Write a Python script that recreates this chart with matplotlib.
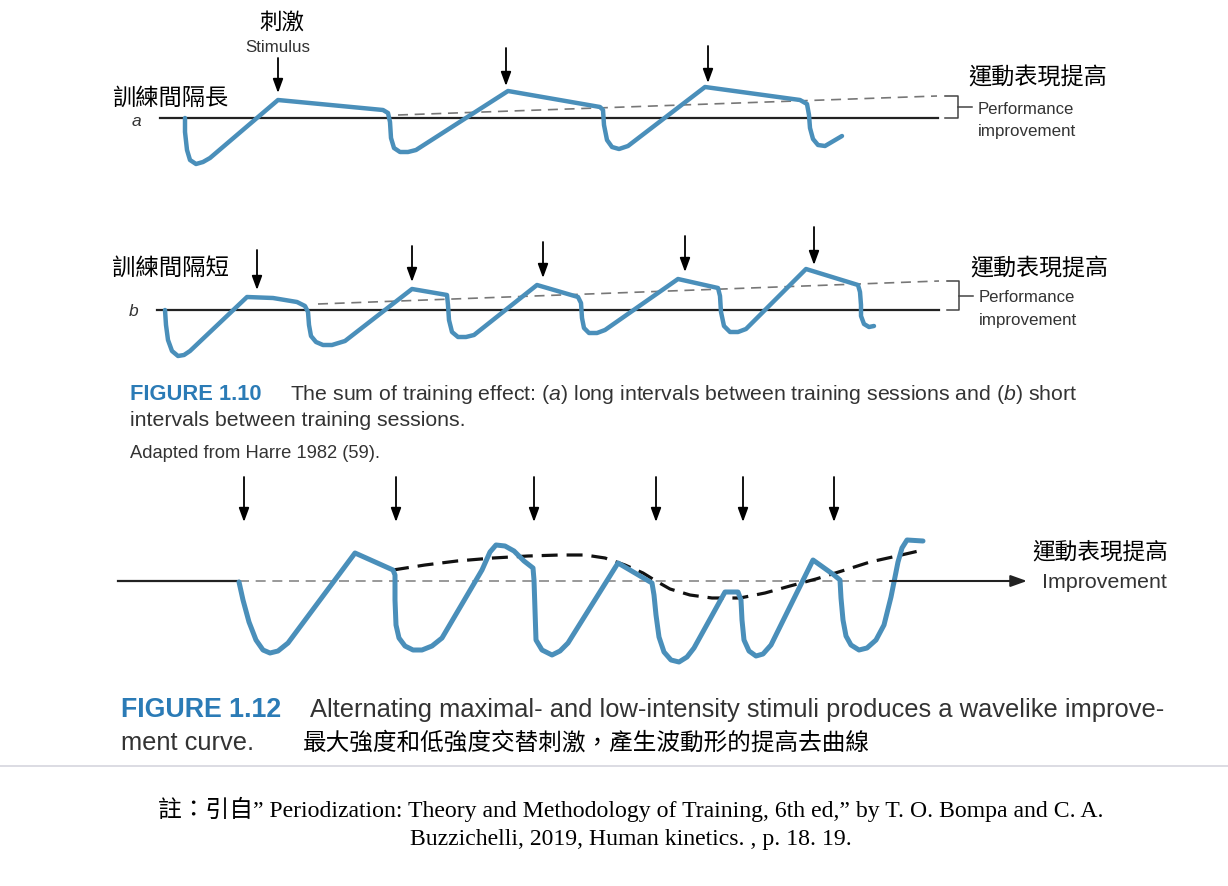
import matplotlib.pyplot as plt

W, H = 1228, 886

# hand-drawn curves in pixel units (y grows downward)
# panel a: long intervals between sessions
a_curve_x = [185, 185, 187, 190, 196, 203, 210, 278, 383, 388, 390, 391, 394, 400, 408, 416, 508,
             600, 603, 604, 607, 612, 619, 628, 705, 800, 807, 809, 810, 813, 818, 825, 842]
a_curve_y = [118, 132, 150, 160, 164, 162, 158, 100, 110, 113, 122, 138, 148, 152, 152, 150, 91,
             107, 110, 125, 140, 147, 149, 146, 87, 100, 104, 115, 128, 139, 145, 146, 136]
a_trend_x = [398, 937]
a_trend_y = [115, 96]
a_stim_x = [278, 506, 708]
a_stim_top = [58, 48, 46]
a_stim_tip = [93, 86, 83]

# panel b: short intervals between sessions
b_curve_x = [165, 166, 168, 172, 178, 184, 190, 247, 273, 297, 305, 308, 309, 311, 316, 323, 332, 345, 412,
             447, 448, 449, 452, 458, 466, 474, 537, 578, 581, 582, 584, 589, 597, 605, 678,
             718, 720, 721, 724, 730, 738, 746, 806, 858, 860, 861, 861, 864, 869, 874]
b_curve_y = [310, 325, 340, 351, 356, 355, 351, 297, 298, 302, 306, 312, 325, 336, 342, 345, 345, 341, 289,
             295, 305, 320, 332, 337, 337, 335, 285, 297, 303, 318, 328, 333, 333, 330, 279,
             288, 296, 312, 326, 332, 332, 329, 269, 285, 292, 305, 316, 324, 327, 326]
b_trend_x = [318, 939]
b_trend_y = [304, 281]
b_stim_x = [257, 412, 543, 685, 814]
b_stim_top = [250, 246, 242, 236, 227]
b_stim_tip = [290, 282, 278, 272, 265]

# figure 1.12: alternating maximal and low intensity stimuli
c_curve_x = [239, 243, 249, 256, 263, 270, 278, 288, 355, 393, 395, 395, 396, 399, 405, 413, 422, 432, 442,
             482, 490, 496, 505, 514, 524, 533, 534, 535, 536, 542, 552, 560, 568, 618,
             652, 654, 656, 659, 664, 671, 679, 687, 694, 725, 738, 741, 742, 744, 749, 756, 763, 771,
             813, 834, 840, 841, 843, 846, 851, 859, 867, 876, 884, 891, 898, 902, 907, 923]
c_curve_y = [582, 600, 622, 640, 650, 653, 651, 643, 553, 570, 575, 600, 625, 638, 646, 650, 650, 646, 638,
             570, 552, 545, 546, 551, 561, 568, 580, 610, 640, 650, 655, 651, 643, 563,
             583, 595, 615, 637, 652, 660, 662, 657, 648, 592, 592, 600, 620, 640, 651, 656, 654, 645,
             560, 575, 580, 598, 620, 636, 645, 650, 648, 640, 625, 597, 562, 548, 540, 541]
c_wave_x = [393, 425, 457, 493, 528, 560, 585, 605, 625, 643, 656, 670, 690, 712, 740, 765, 790, 816, 845, 870, 897, 923]
c_wave_y = [570, 565, 561, 558, 556, 555, 555, 558, 565, 573, 581, 589, 595, 598, 598, 593, 586, 579, 570, 562, 556, 550]
c_stim_x = [244, 396, 534, 656, 743, 834]

BLUE = '#4a8fba'
CAP_BLUE = '#2b7bb6'
GREY_TXT = '#333333'

plt.rcParams['font.family'] = ['Liberation Sans', 'Noto Sans CJK TC', 'DejaVu Sans']
plt.rcParams['mathtext.fontset'] = 'custom'
plt.rcParams['mathtext.rm'] = 'Liberation Sans'
plt.rcParams['mathtext.it'] = 'Liberation Sans:italic'

fig = plt.figure(figsize=(W / 100, H / 100), dpi=100)
ax = fig.add_axes([0, 0, 1, 1])
ax.set_xlim(0, W)
ax.set_ylim(H, 0)
ax.axis('off')
rend = fig.canvas.get_renderer()


def fit(x, y, s, width, **kw):
    # scale the font so the text spans the given pixel width
    kw.setdefault('va', 'center')
    t = ax.text(x, y, s, fontsize=10, **kw)
    w = t.get_window_extent(rend).width
    t.set_fontsize(10 * width / w)
    return 10 * width / w


def stim(x, top, tip):
    ax.annotate('', xy=(x, tip), xytext=(x, top),
                arrowprops=dict(arrowstyle='-|>,head_length=0.6,head_width=0.22',
                                color='black', lw=1.3, mutation_scale=14,
                                shrinkA=0, shrinkB=0))


def bracket(x0, x1, top, bottom):
    ax.plot([x0, x1, x1, x0], [top, top, bottom, bottom], color='#444444', lw=1.1)
    mid = (top + bottom) / 2
    ax.plot([x1, x1 + 14], [mid, mid], color='#444444', lw=1.1)


curve_kw = dict(color=BLUE, solid_joinstyle='round', solid_capstyle='round')

# ---- panel a
ax.plot([160, 938], [118, 118], color='#222222', lw=1.6)
ax.plot(a_trend_x, a_trend_y, color='#777777', lw=1.2, dashes=(6, 4))
ax.plot(a_curve_x, a_curve_y, lw=3.2, **curve_kw)
for x, t0, t1 in zip(a_stim_x, a_stim_top, a_stim_tip):
    stim(x, t0, t1)
bracket(945, 958, 96, 118)
fit(282, 22, '刺激', 45, ha='center', color='black')
fit(278, 47, 'Stimulus', 65, ha='center', color=GREY_TXT)
fit(112, 98, '訓練間隔長', 116, color='black')
ax.text(136, 121, 'a', fontsize=12.5, fontstyle='italic', ha='center', va='center', color=GREY_TXT)
fit(968, 78, '運動表現提高', 139, color='black')
fit(978, 109, 'Performance', 97, color=GREY_TXT)
fit(978, 131, 'improvement', 99, color=GREY_TXT)

# ---- panel b
ax.plot([157, 939], [310, 310], color='#222222', lw=1.6)
ax.plot(b_trend_x, b_trend_y, color='#777777', lw=1.2, dashes=(6, 4))
ax.plot(b_curve_x, b_curve_y, lw=3.2, **curve_kw)
for x, t0, t1 in zip(b_stim_x, b_stim_top, b_stim_tip):
    stim(x, t0, t1)
bracket(947, 959, 281, 310)
fit(112, 268, '訓練間隔短', 117, color='black')
ax.text(134, 312, 'b', fontsize=12.5, fontstyle='italic', ha='center', va='center', color=GREY_TXT)
fit(970, 268, '運動表現提高', 138, color='black')
fit(979, 298, 'Performance', 97, color=GREY_TXT)
fit(979, 320, 'improvement', 99, color=GREY_TXT)

# ---- caption 1.10
fit(130, 394, 'FIGURE 1.10', 132, color=CAP_BLUE, fontweight='bold')
cap1 = fit(290, 394, r'The sum of training effect: $\mathit{(a)}$ long intervals between training sessions and $\mathit{(b)}$ short',
           788, color=GREY_TXT)
ax.text(130, 420, 'intervals between training sessions.', fontsize=cap1, va='center', color=GREY_TXT)
fit(130, 453, 'Adapted from Harre 1982 (59).', 252, color=GREY_TXT)

# ---- figure 1.12
ax.plot([118, 239], [581, 581], color='#222222', lw=1.6)
ax.plot([239, 890], [581, 581], color='#888888', lw=1.2, dashes=(6, 4))
ax.annotate('', xy=(1027, 581), xytext=(890, 581),
            arrowprops=dict(arrowstyle='-|>,head_length=0.7,head_width=0.25',
                            color='#222222', lw=1.5, mutation_scale=14,
                            shrinkA=0, shrinkB=0))
ax.plot(c_wave_x, c_wave_y, color='#111111', lw=2.3, dashes=(5, 2.8))
ax.plot(c_curve_x, c_curve_y, lw=3.6, **curve_kw)
for x in c_stim_x:
    stim(x, 477, 522)
fit(1032, 552, '運動表現提高', 136, color='black')
fit(1042, 582, 'Improvement', 125, color=GREY_TXT)

# ---- caption 1.12
fit(121, 710, 'FIGURE 1.12', 161, color=CAP_BLUE, fontweight='bold')
cap2 = fit(310, 710, 'Alternating maximal- and low-intensity stimuli produces a wavelike improve-', 858, color=GREY_TXT)
ax.text(121, 743, 'ment curve.', fontsize=cap2, va='center', color=GREY_TXT)
fit(303, 743, '最大強度和低強度交替刺激，產生波動形的提高去曲線', 567, color='black')

ax.plot([0, W], [766, 766], color='#d6d6de', lw=1.2)

# ---- note
serif = ['Liberation Serif', 'Noto Sans CJK TC']
note = fit(631, 809, '註：引自” Periodization: Theory and Methodology of Training, 6th ed,” by T. O. Bompa and C. A.',
           948, ha='center', color='black', family=serif)
ax.text(631, 839, 'Buzzichelli, 2019, Human kinetics. , p. 18. 19.', fontsize=note,
        ha='center', va='center', color='black', family=serif)

fig.savefig('out.png', dpi=100, facecolor='white')
